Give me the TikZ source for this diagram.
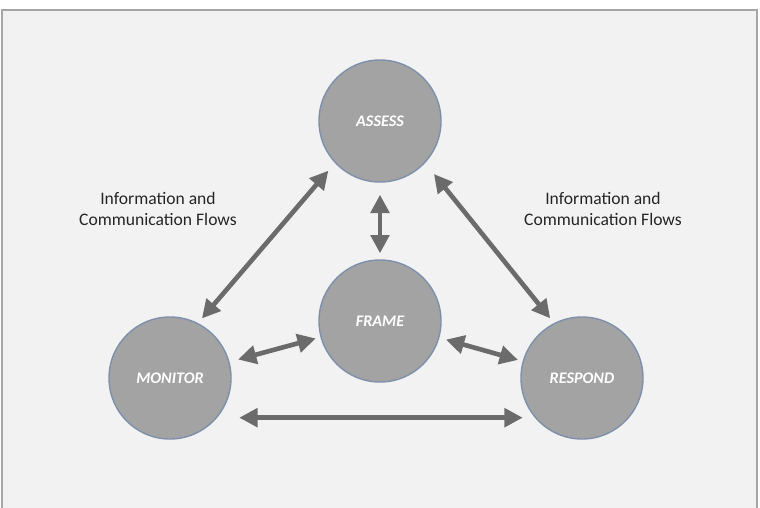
\documentclass[tikz,border=0pt]{standalone}
\usepackage{fontspec}
\setmainfont{Carlito}
\usepackage{tikz}
\usetikzlibrary{arrows.meta}
\definecolor{panelbg}{HTML}{F2F2F2}
\definecolor{panelline}{HTML}{A6A6A6}
\definecolor{discfill}{HTML}{A3A3A3}
\definecolor{discline}{HTML}{7F90AB}
\definecolor{flowgray}{HTML}{6B6B6B}

\begin{document}
\begin{tikzpicture}[x=0.025cm,y=-0.025cm,
		stage/.style={circle,fill=discfill,draw=discline,line width=1pt,minimum size=3.05cm,inner sep=0pt,
			text=white,font=\fontsize{11.5}{13}\selectfont\bfseries\itshape},
		flow/.style={color=flowgray,line width=3.3pt,{Triangle[length=13pt,width=13pt]}-{Triangle[length=13pt,width=13pt]}},
		note/.style={align=center,text=black!85,font=\fontsize{12.5}{15.5}\selectfont}]
		\useasboundingbox (0,0) rectangle (760,507);
		\fill[white] (0,0) rectangle (760,507);
		\begin{scope}
			\clip (0,0) rectangle (760,507);
			\draw[panelline,fill=panelbg,line width=1pt] (2,10) rectangle (757,530);
		\end{scope}
		
		% the four stages
		\node[stage] (assess) at (380,121) {ASSESS};
		\node[stage] (frame) at (380,321) {FRAME};
		\node[stage] (monitor) at (170,378) {MONITOR};
		\node[stage] (respond) at (582,378) {RESPOND};
		
		% flows between them
		\draw[flow,shorten <=0.25cm,shorten >=0.15cm] (assess.223) -- (monitor.63);
		\draw[flow,shorten <=0.35cm,shorten >=0.15cm] (assess.317) -- (respond.117);
		\draw[flow,shorten <=0.3cm,shorten >=0.15cm] (assess) -- (frame);
		\draw[flow,shorten <=0.22cm,shorten >=0.12cm] (monitor) -- (frame);
		\draw[flow,shorten <=0.17cm,shorten >=0.12cm] (frame) -- (respond);
		\draw[flow,shorten <=0.55cm,shorten >=0.3cm] (monitor.-40) -- (respond.220);
		
		\node[note] (leftnote) at (158,209) {Information and\\Communication Flows};
		\node[note] (rightnote) at (603,209) {Information and\\Communication Flows};
	\end{tikzpicture}
\end{document}
